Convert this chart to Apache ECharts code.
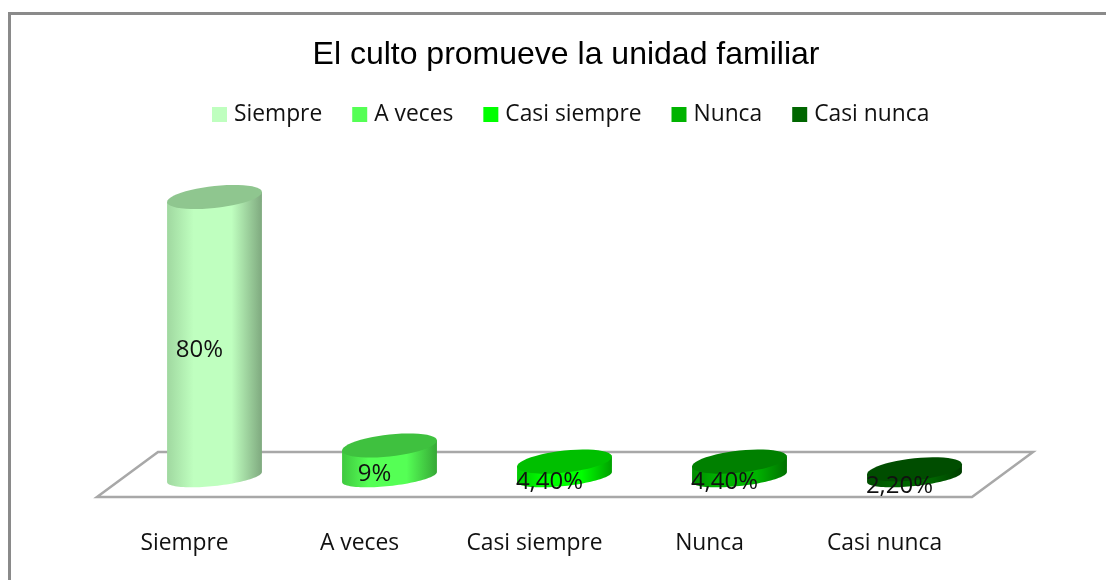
<!DOCTYPE html>
<html><head><meta charset="utf-8">
<style>html,body{margin:0;padding:0;background:#fff}#c{width:1106px;height:580px}</style>
<script src="https://cdn.jsdelivr.net/npm/echarts@6/dist/echarts.min.js"></script>
</head><body><div id="c"></div>
<script>
const categories = ['Siempre','A veces','Casi siempre','Nunca','Casi nunca'];
const values = [80, 9, 4.4, 4.4, 2.2];
const valueLabels = ['80%','9%','4,40%','4,40%','2,20%'];
const bodyColors = ['#bfffbf','#55ff55','#00ff00','#00b300','#006600'];
const edgeLeft = ['#a0d8a0','#3fc83f','#00c800','#008c00','#004d00'];
const edgeRight = ['#7fa97f','#36a836','#00a000','#007000','#003d00'];
const topColors = ['#8fc68f','#3fc13f','#00bf00','#008000','#004d00'];
const textFont = '"Open Sans","Noto Sans",sans-serif';

function ellipsePts(cx, cy, a, b, skew, from, to) {
  const pts = [], n = 48;
  for (let i = 0; i <= n; i++) {
    const t = from + (to - from) * i / n;
    pts.push([cx + a * Math.cos(t), cy + b * Math.sin(t) - skew * Math.cos(t)]);
  }
  return pts;
}

function cylinder(idx) {
  return function (params, api) {
    const top = api.coord([api.value(0), api.value(1)]);
    const base = api.coord([api.value(0), 0]);
    const a = api.size([1, 0])[0] * 0.271, b = 11, skew = 5;
    const cx = top[0];
    const lower = ellipsePts(cx, base[1], a, 9, skew, Math.PI, 0);
    const upperLeft = [cx - a, top[1] + skew], upperRight = [cx + a, top[1] - skew];
    const body = [upperLeft].concat(lower, [upperRight]);
    return {
      type: 'group',
      children: [
        { type: 'polygon', shape: { points: body }, style: {
            fill: new echarts.graphic.LinearGradient(0, 0, 1, 0, [
              { offset: 0, color: edgeLeft[idx] },
              { offset: 0.28, color: bodyColors[idx] },
              { offset: 0.68, color: bodyColors[idx] },
              { offset: 1, color: edgeRight[idx] }
            ]) } },
        { type: 'polygon', shape: { points: ellipsePts(cx, top[1], a, b, skew, 0, Math.PI * 2) },
          style: { fill: topColors[idx] } },
        { type: 'text', z2: 10, style: {
            x: cx - 15, y: (top[1] + base[1]) / 2 + 13,
            text: valueLabels[idx], fill: '#111', font: '24px ' + textFont,
            align: 'center', verticalAlign: 'middle' } }
      ]
    };
  };
}

function floor(params) {
  const g = params.coordSys, dx = 61, dy = -45;
  const y = g.y + g.height;
  return {
    type: 'polygon',
    shape: { points: [[g.x, y], [g.x + dx, y + dy], [g.x + g.width + dx, y + dy], [g.x + g.width, y]] },
    style: { fill: '#fff', stroke: '#a8a8a8', lineWidth: 2.5 }
  };
}

const series = [{
  type: 'custom', name: 'Plano', xAxisIndex: 1, yAxisIndex: 1, z: 1, silent: true,
  renderItem: floor, data: [[categories[0], 0]], clip: false
}].concat(categories.map((c, i) => ({
  type: 'custom', name: c, xAxisIndex: 0, yAxisIndex: 0, z: 2 + i, clip: false,
  itemStyle: { color: bodyColors[i] },
  renderItem: cylinder(i),
  encode: { x: 0, y: 1 },
  data: [[c, values[i]]]
})));

const chart = echarts.init(document.getElementById('c'), null, { renderer: 'canvas' });
chart.setOption({
  animation: false,
  backgroundColor: '#fff',
  title: { text: 'El culto promueve la unidad familiar', left: 561, textAlign: 'center', top: 34,
    textStyle: { fontFamily: '"Liberation Sans",Arial,sans-serif', fontSize: 32, fontWeight: 'normal', color: '#000' } },
  legend: { data: categories, left: 212, top: 103, padding: 0, icon: 'rect', itemWidth: 15, itemHeight: 15,
    itemGap: 30, itemStyle: { borderWidth: 0 },
    textStyle: { fontFamily: textFont, fontSize: 22.8, color: '#111', padding: [0, 0, 0, 2] } },
  grid: [
    { left: 127, top: 127, width: 875, height: 350 },
    { left: 97, top: 147, width: 875, height: 350 }
  ],
  xAxis: [
    { type: 'category', gridIndex: 0, data: categories, axisLine: { show: false }, axisTick: { show: false }, axisLabel: { show: false } },
    { type: 'category', gridIndex: 1, data: categories, axisLine: { show: false }, axisTick: { show: false },
      axisLabel: { margin: 35, fontFamily: textFont, fontSize: 22.8, color: '#111', interval: 0 } }
  ],
  yAxis: [
    { type: 'value', gridIndex: 0, min: 0, max: 100, show: false },
    { type: 'value', gridIndex: 1, min: 0, max: 100, show: false }
  ],
  graphic: [
    { type: 'rect', silent: true, z: -1, shape: { x: 9.5, y: 13.5, width: 1200, height: 800 },
      style: { fill: 'none', stroke: '#8a8a8a', lineWidth: 3 } }
  ],
  series
});
</script></body></html>
